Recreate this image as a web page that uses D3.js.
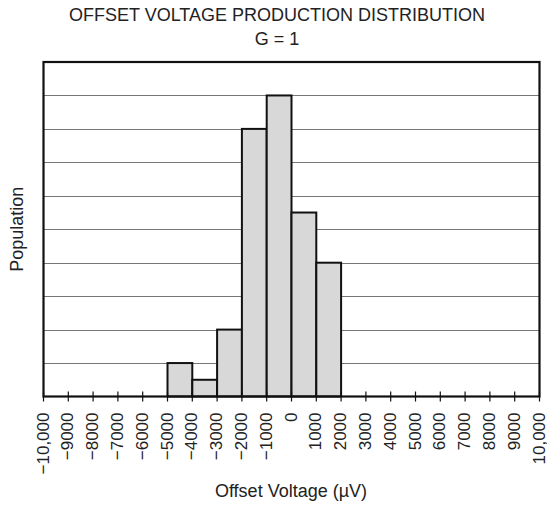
<!DOCTYPE html>
<html lang="en">
<head>
	<title>Offset Voltage Production Distribution</title>
	<script src="https://d3js.org/d3.v7.min.js" charset="utf-8"></script>
	<style>
		body { margin: 0; background: #fff; }
		text { font-family: "Liberation Sans", Arial, sans-serif; fill: #222; }
	</style>
</head>
<body>
	<script>
		// bins (µV) and population (grid units)
		var binStarts = [ -5000, -4000, -3000, -2000, -1000, 0, 1000 ];
		var population = [ 1, 0.5, 2, 8, 9, 5.5, 4 ];
		var binWidth = 1000;
		var tickValues = d3.range(-10000, 10001, 1000);
		var yTicks = d3.range(0, 11, 1);

		var w = 547;
		var h = 508;
		var plotLeft = 43.5, plotRight = 539.5, plotTop = 62, plotBottom = 396.5;

		var svg = d3.select("body")
			.append("svg")
			.attr("width", w)
			.attr("height", h);

		var x = d3.scaleLinear()
			.domain([-10000, 10000])
			.range([plotLeft, plotRight]);

		var y = d3.scaleLinear()
			.domain([0, 10])
			.range([plotBottom, plotTop]);

		// horizontal grid
		svg.selectAll("line.grid")
			.data(yTicks.slice(1, -1))
			.enter()
			.append("line")
			.attr("class", "grid")
			.attr("x1", plotLeft)
			.attr("x2", plotRight)
			.attr("y1", function(d){ return Math.round(y(d)) + 0.5; })
			.attr("y2", function(d){ return Math.round(y(d)) + 0.5; })
			.attr("stroke", "#777")
			.attr("stroke-width", 1.2);

		// bars
		svg.selectAll("rect.bar")
			.data(binStarts)
			.enter()
			.append("rect")
			.attr("class", "bar")
			.attr("x", function(d){ return x(d); })
			.attr("y", function(d, i){ return y(population[i]); })
			.attr("width", function(d){ return x(d + binWidth) - x(d); })
			.attr("height", function(d, i){ return y(0) - y(population[i]); })
			.attr("fill", "#d8d8d8")
			.attr("stroke", "#111")
			.attr("stroke-width", 2);

		// frame
		svg.append("rect")
			.attr("x", plotLeft)
			.attr("y", plotTop)
			.attr("width", plotRight - plotLeft)
			.attr("height", plotBottom - plotTop)
			.attr("fill", "none")
			.attr("stroke", "#111")
			.attr("stroke-width", 2.2);

		// x ticks crossing the axis
		svg.selectAll("line.tick")
			.data(tickValues)
			.enter()
			.append("line")
			.attr("class", "tick")
			.attr("x1", function(d){ return x(d); })
			.attr("x2", function(d){ return x(d); })
			.attr("y1", plotBottom - 5)
			.attr("y2", plotBottom + 5)
			.attr("stroke", "#111")
			.attr("stroke-width", 1.2);

		var fmt = function(d) {
			var s = Math.abs(d) >= 10000 ? d3.format(",")(Math.abs(d)) : String(Math.abs(d));
			return (d < 0 ? "\u2212" : "") + s;
		};

		// rotated tick labels
		svg.selectAll("text.xlab")
			.data(tickValues)
			.enter()
			.append("text")
			.attr("class", "xlab")
			.attr("transform", function(d){ return "translate(" + (x(d) + 5) + "," + (plotBottom + 16) + ") rotate(-90)"; })
			.attr("text-anchor", "end")
			.attr("font-size", 17)
			.text(fmt);

		// titles
		svg.append("text")
			.attr("x", 277)
			.attr("y", 21)
			.attr("text-anchor", "middle")
			.attr("font-size", 18)
			.text("OFFSET VOLTAGE PRODUCTION DISTRIBUTION");

		svg.append("text")
			.attr("x", 277)
			.attr("y", 45)
			.attr("text-anchor", "middle")
			.attr("font-size", 18)
			.text("G = 1");

		svg.append("text")
			.attr("transform", "translate(23," + ((plotTop + plotBottom) / 2) + ") rotate(-90)")
			.attr("text-anchor", "middle")
			.attr("font-size", 18)
			.text("Population");

		svg.append("text")
			.attr("x", 291)
			.attr("y", 497)
			.attr("text-anchor", "middle")
			.attr("font-size", 18)
			.text("Offset Voltage (\u00b5V)");
	</script>
</body>
</html>
